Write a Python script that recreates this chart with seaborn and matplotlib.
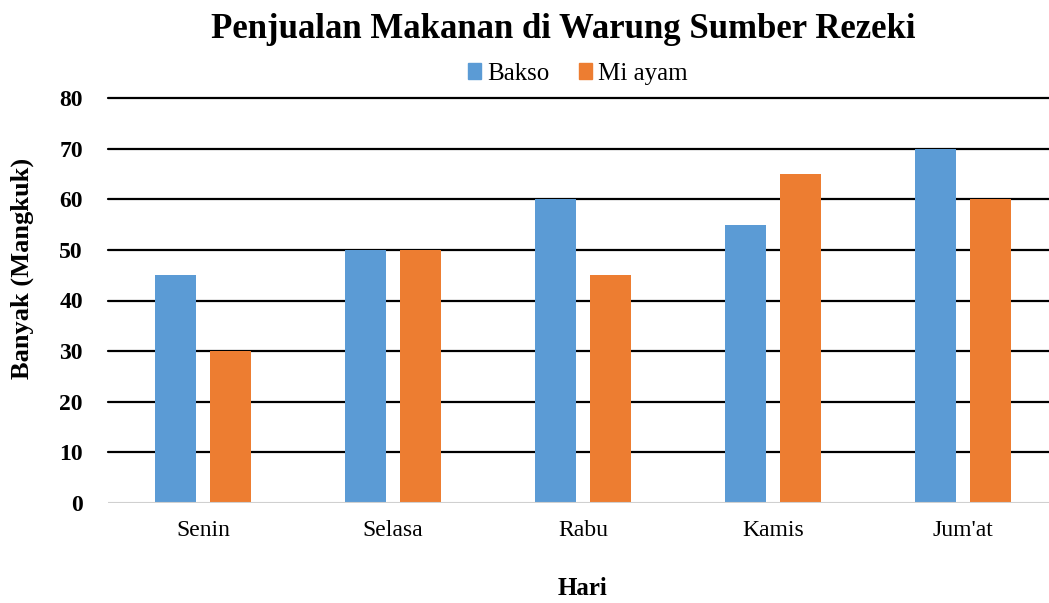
import matplotlib
matplotlib.use("Agg")
import matplotlib.pyplot as plt
import seaborn as sns
import pandas as pd

# data
days = ["Senin", "Selasa", "Rabu", "Kamis", "Jum'at"]
bakso = [45, 50, 60, 55, 70]
mi_ayam = [30, 50, 45, 65, 60]
series = ["Bakso", "Mi ayam"]
colors = ["#5B9BD5", "#ED7D31"]

df = pd.DataFrame({
    "Hari": days * 2,
    "Banyak": bakso + mi_ayam,
    "Menu": [series[0]] * len(days) + [series[1]] * len(days),
})

sns.set_theme(style="white")
plt.rcParams["font.family"] = ["Liberation Serif", "DejaVu Serif"]
plt.rcParams["text.color"] = "black"
plt.rcParams["axes.labelcolor"] = "black"
plt.rcParams["xtick.color"] = "black"
plt.rcParams["ytick.color"] = "black"

W, H = 1049, 603
fig = plt.figure(figsize=(W / 100, H / 100), dpi=100)
ax = fig.add_axes([108 / W, 100 / H, 950 / W, 405 / H])

sns.barplot(data=df, x="Hari", y="Banyak", hue="Menu", palette=colors,
            width=0.58, gap=0.24, saturation=1, linewidth=0,
            ax=ax, zorder=3, legend=False)

ax.set_ylim(0, 80)
ax.set_xlim(-0.5, len(days) - 0.5)
ax.set_yticks(range(0, 81, 10))
for y in range(10, 81, 10):
    ax.axhline(y, color="black", lw=1.6, zorder=1, clip_on=False)
ax.axhline(0, color="#d0d0d0", lw=1.5, zorder=4)
for s in ax.spines.values():
    s.set_visible(False)
ax.tick_params(axis="both", length=0)
ax.tick_params(axis="x", labelsize=17, pad=12)
ax.tick_params(axis="y", labelsize=17, pad=18)
for lbl in ax.get_yticklabels():
    lbl.set_fontweight("bold")

ax.set_xlabel("Hari", fontsize=18, fontweight="bold", labelpad=26)
ax.set_ylabel("Banyak (Mangkuk)", fontsize=19, fontweight="bold")
ax.yaxis.set_label_coords(-0.078, 0.58)

fig.text(563 / W, 1 - 30 / H, "Penjualan Makanan di Warung Sumber Rezeki",
         ha="center", va="center", fontsize=25, fontweight="bold")

handles = [plt.Rectangle((0, 0), 1, 1, color=c) for c in colors]
fig.legend(handles, series, loc="center", bbox_to_anchor=(578 / W, 1 - 74 / H),
           ncol=2, frameon=False, fontsize=18, handlelength=0.5, handleheight=0.6,
           handletextpad=0.25, columnspacing=1.2)

fig.savefig("out.png", dpi=100)
